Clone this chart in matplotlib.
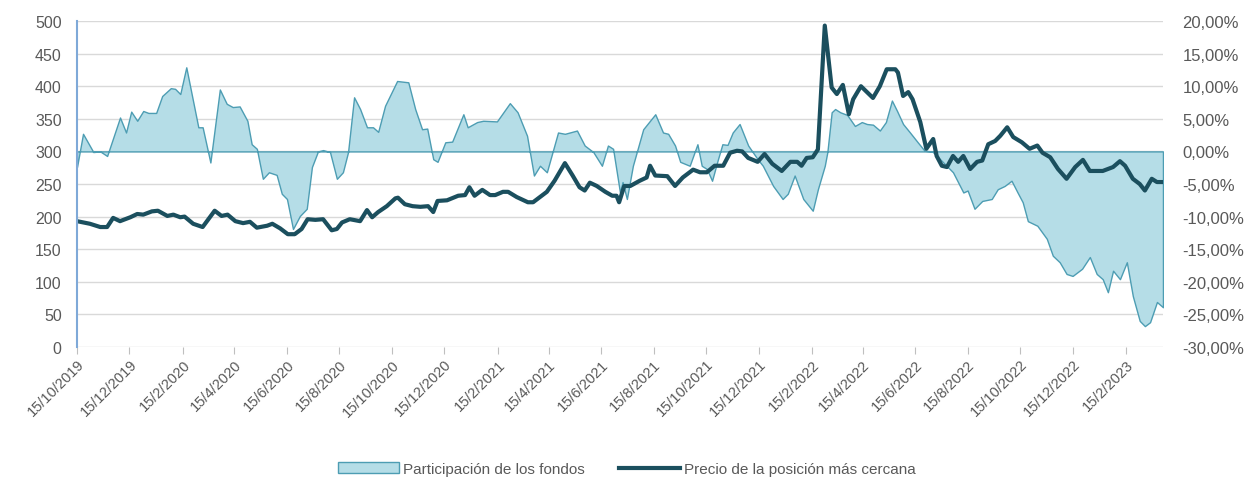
import pandas as pd
import matplotlib
matplotlib.use('Agg')
from matplotlib import pyplot as plt
from matplotlib.ticker import FuncFormatter, MultipleLocator

plt.rcParams['font.family'] = ['Liberation Sans', 'DejaVu Sans']

START = pd.Timestamp('2019-10-15')

# Participación de los fondos (%), day offset from 15/10/2019
area_days = [0, 7, 19, 27, 35, 50, 57, 63, 70, 77,
             83, 92, 99, 109, 114, 120, 127, 141, 146, 155,
             166, 174, 181, 189, 198, 203, 209, 216, 223, 232,
             238, 244, 251, 259, 267, 273, 280, 286, 294, 302,
             309, 315, 322, 329, 337, 344, 350, 358, 372, 385,
             393, 401, 407, 414, 419, 428, 436, 449, 454, 465,
             472, 488, 503, 512, 523, 531, 538, 546, 559, 567,
             581, 590, 600, 610, 617, 623, 631, 634, 639, 646,
             658, 672, 681, 687, 695, 701, 712, 721, 726, 732,
             738, 744, 750, 756, 762, 770, 780, 791, 797, 809,
             820, 826, 834, 844, 855, 861, 869, 872, 877, 881,
             887, 895, 904, 912, 918, 925, 933, 940, 947, 953,
             960, 968, 977, 985, 994, 1006, 1018, 1030, 1035, 1043,
             1052, 1063, 1070, 1078, 1086, 1093, 1099, 1105, 1116, 1127,
             1134, 1142, 1150, 1157, 1168, 1177, 1185, 1192, 1198, 1204,
             1212, 1220, 1227, 1235, 1241, 1247, 1255, 1262]
area_pct = [-2.4, 2.7, -0.1, 0.0, -0.7, 5.2, 2.9, 6.1, 4.7, 6.2,
            5.9, 5.9, 8.5, 9.7, 9.6, 8.8, 12.9, 3.7, 3.7, -1.7,
            9.5, 7.3, 6.8, 6.9, 4.7, 1.1, 0.4, -4.2, -3.2, -3.6,
            -6.5, -7.3, -11.9, -9.9, -8.8, -2.4, 0.0, 0.2, -0.1, -4.2,
            -3.2, -0.1, 8.3, 6.5, 3.7, 3.7, 3.0, 7.0, 10.8, 10.6,
            6.5, 3.4, 3.5, -1.2, -1.6, 1.4, 1.5, 5.7, 3.7, 4.5,
            4.7, 4.6, 7.4, 6.0, 2.4, -3.7, -2.2, -3.2, 2.9, 2.7,
            3.2, 0.9, -0.1, -2.2, 0.9, 0.4, -6.3, -4.7, -7.3, -2.2,
            3.4, 5.7, 2.9, 2.7, 0.9, -1.6, -2.2, 1.1, -2.2, -2.7,
            -4.5, -1.6, 1.1, 1.0, 2.9, 4.2, 0.9, -1.2, -2.2, -5.3,
            -7.3, -6.5, -3.7, -7.3, -9.1, -5.8, -2.2, -0.1, 6.0, 6.5,
            6.0, 5.6, 3.9, 4.5, 4.2, 4.1, 3.2, 4.5, 7.8, 6.2,
            4.2, 2.9, 1.4, 0.1, 0.0, -1.6, -3.2, -6.3, -6.0, -8.8,
            -7.6, -7.3, -5.8, -5.3, -4.5, -6.3, -7.8, -10.7, -11.4, -13.4,
            -16.0, -17.0, -18.8, -19.1, -18.0, -16.2, -18.8, -19.6, -21.6, -18.3,
            -19.6, -17.0, -22.2, -26.0, -26.8, -26.2, -23.1, -23.9]

# Precio de la posición más cercana, day offset from 15/10/2019
line_days = [0, 15, 27, 35, 42, 50, 62, 70, 77, 87,
             94, 105, 112, 120, 125, 135, 146, 160, 168, 175,
             184, 193, 201, 209, 221, 227, 236, 245, 253, 261,
             268, 277, 286, 296, 302, 308, 317, 329, 337, 343,
             350, 360, 370, 373, 381, 390, 399, 408, 414, 419,
             430, 443, 451, 456, 462, 471, 480, 486, 495, 501,
             511, 524, 530, 546, 555, 567, 576, 584, 590, 596,
             604, 614, 622, 627, 630, 636, 643, 654, 662, 666,
             672, 686, 695, 704, 716, 724, 732, 741, 751, 759,
             767, 773, 780, 791, 799, 808, 819, 829, 837, 842,
             848, 855, 861, 869, 877, 883, 890, 897, 902, 911,
             918, 925, 933, 941, 951, 954, 960, 966, 971, 980,
             987, 995, 999, 1005, 1011, 1018, 1024, 1030, 1038, 1046,
             1052, 1059, 1067, 1073, 1081, 1088, 1098, 1107, 1116, 1122,
             1131, 1140, 1150, 1160, 1169, 1177, 1192, 1204, 1212, 1218,
             1227, 1235, 1241, 1249, 1255, 1262]
line_vals = [193, 189, 184, 184, 198, 193, 199, 204, 203, 208,
             209, 201, 203, 199, 200, 189, 184, 209, 201, 203,
             193, 190, 192, 183, 186, 189, 182, 173, 173, 181,
             196, 195, 196, 179, 181, 191, 196, 193, 210, 199,
             207, 216, 228, 229, 219, 216, 215, 216, 207, 224,
             225, 232, 233, 245, 232, 241, 233, 233, 238, 238,
             230, 222, 222, 238, 255, 282, 263, 245, 240, 252,
             247, 238, 232, 232, 222, 247, 247, 255, 260, 278,
             263, 262, 247, 260, 272, 268, 268, 278, 278, 298,
             301, 300, 290, 284, 296, 281, 270, 284, 284, 278,
             290, 291, 303, 493, 398, 388, 402, 357, 380, 400,
             391, 382, 400, 426, 426, 421, 385, 391, 380, 345,
             304, 319, 293, 278, 276, 293, 284, 293, 273, 284,
             286, 311, 316, 324, 337, 322, 314, 304, 309, 298,
             291, 273, 258, 276, 287, 270, 270, 276, 285, 278,
             258, 250, 240, 258, 253, 253]

tick_labels = ['15/10/2019', '15/12/2019', '15/2/2020', '15/4/2020', '15/6/2020',
               '15/8/2020', '15/10/2020', '15/12/2020', '15/2/2021', '15/4/2021',
               '15/6/2021', '15/8/2021', '15/10/2021', '15/12/2021', '15/2/2022',
               '15/4/2022', '15/6/2022', '15/8/2022', '15/10/2022', '15/12/2022',
               '15/2/2023']

area_x = START + pd.to_timedelta(area_days, unit='D')
line_x = START + pd.to_timedelta(line_days, unit='D')
tick_x = pd.to_datetime(tick_labels, format='%d/%m/%Y')

GRAY = '#595959'
fig = plt.figure(figsize=(12.54, 4.85), dpi=100)
ax2 = fig.add_axes([0.0614, 0.2825, 0.8660, 0.6721])
ax = ax2.twinx()
ax.yaxis.tick_left()
ax2.yaxis.tick_right()
ax.set_zorder(ax2.get_zorder() + 1)
ax.patch.set_visible(False)

fa = ax2.fill_between(area_x, area_pct, 0, facecolor='#b5dde7', edgecolor='#4d9db3',
                      linewidth=1.0, label='Participación de los fondos')
ln, = ax.plot(line_x, line_vals, color='#1b4f5e', linewidth=3.0,
              label='Precio de la posición más cercana')

ax.set_ylim(0, 500)
ax2.set_ylim(-30, 20)
ax.set_xlim(START, line_x[-1])
ax.yaxis.set_major_locator(MultipleLocator(50))
ax2.yaxis.set_major_locator(MultipleLocator(5))
ax2.yaxis.set_major_formatter(FuncFormatter(lambda v, p: f'{v:.2f}%'.replace('.', ',')))
ax2.grid(axis='y', color='#d9d9d9', linewidth=1.0)
ax2.set_axisbelow(True)

for s in list(ax.spines.values()) + list(ax2.spines.values()):
    s.set_visible(False)
ax.tick_params(axis='y', length=0, labelsize=11.5, labelcolor=GRAY, pad=11)
ax2.tick_params(axis='y', length=0, labelsize=12, labelcolor=GRAY, pad=14)
ax.spines['left'].set_visible(True)
ax.spines['left'].set_color('#7fa9d8')
ax.spines['left'].set_linewidth(1.5)

ax2.set_xticks(tick_x)
ax2.set_xticklabels(tick_labels, rotation=45, ha='right', rotation_mode='anchor')
ax2.tick_params(axis='x', length=5, color='#bfbfbf', labelsize=10.5, labelcolor=GRAY, pad=2)
ax.tick_params(axis='x', length=0, labelbottom=False)

fig.legend(handles=[fa, ln], loc='lower center', bbox_to_anchor=(0.5, -0.012), ncol=2,
           frameon=False, fontsize=11, labelcolor=GRAY, handlelength=4.0,
           handletextpad=0.3, columnspacing=2.2)

fig.savefig('out.png', dpi=100)
